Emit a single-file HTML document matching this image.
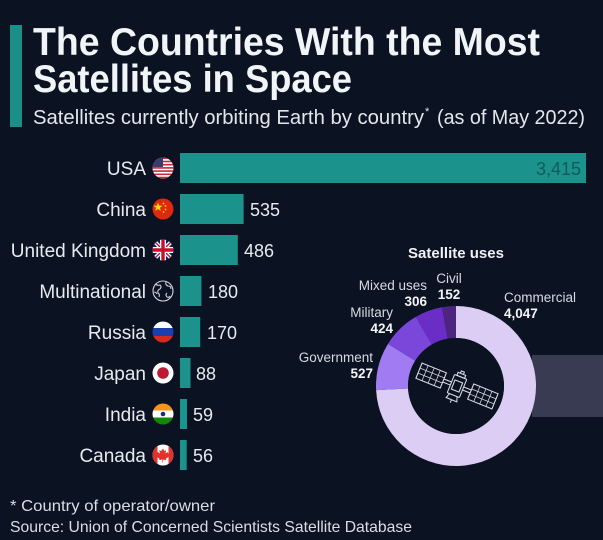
<!DOCTYPE html>
<html><head><meta charset="utf-8"><style>
html,body{margin:0;padding:0;background:#0b1322;}
svg{display:block;}
text{font-family:"Liberation Sans",Arial,sans-serif;}
</style></head><body>
<svg width="603" height="540" viewBox="0 0 603 540" xmlns="http://www.w3.org/2000/svg">
<defs>
<clipPath id="c1"><circle cx="163" cy="168" r="10.5"/></clipPath>
<clipPath id="c2"><circle cx="163" cy="209" r="10.5"/></clipPath>
<clipPath id="c3"><circle cx="163" cy="250" r="10.5"/></clipPath>
<clipPath id="c5"><circle cx="163" cy="332" r="10.5"/></clipPath>
<clipPath id="c7"><circle cx="163" cy="414" r="10.5"/></clipPath>
<clipPath id="c8"><circle cx="163" cy="455" r="10.5"/></clipPath>
</defs>
<rect width="603" height="540" fill="#0b1322"/>

<!-- header -->
<rect x="10" y="25" width="12" height="102" fill="#1a8f88"/>
<text x="33" y="55" font-size="39" font-weight="bold" fill="#f1f5f8" textLength="507" lengthAdjust="spacingAndGlyphs">The Countries With the Most</text>
<text x="33" y="92" font-size="39" font-weight="bold" fill="#f1f5f8" textLength="319" lengthAdjust="spacingAndGlyphs">Satellites in Space</text>
<text x="33" y="124" font-size="20" fill="#e2e7ec" textLength="391" lengthAdjust="spacingAndGlyphs">Satellites currently orbiting Earth by country</text>
<text x="425" y="115" font-size="11" fill="#e2e7ec">*</text>
<text x="437" y="124" font-size="20" fill="#e2e7ec" textLength="148" lengthAdjust="spacingAndGlyphs">(as of May 2022)</text>

<!-- country labels -->
<g font-size="19" fill="#e6ebef" text-anchor="end">
<text x="146" y="175">USA</text>
<text x="146" y="216">China</text>
<text x="146" y="257">United Kingdom</text>
<text x="146" y="298">Multinational</text>
<text x="146" y="339">Russia</text>
<text x="146" y="380">Japan</text>
<text x="146" y="421">India</text>
<text x="146" y="462">Canada</text>
</g>

<!-- bars -->
<g fill="#1c928d">
<rect x="180" y="153" width="406" height="30"/>
<rect x="180" y="194" width="63.6" height="30"/>
<rect x="180" y="235" width="57.8" height="30"/>
<rect x="180" y="276" width="21.4" height="30"/>
<rect x="180" y="317" width="20.2" height="30"/>
<rect x="180" y="358" width="10.5" height="30"/>
<rect x="180" y="399" width="7" height="30"/>
<rect x="180" y="440" width="6.7" height="30"/>
</g>
<text x="581" y="175" font-size="18" fill="#0f5c5a" text-anchor="end">3,415</text>
<g font-size="18" fill="#e6ebef">
<text x="250" y="216">535</text>
<text x="244" y="257">486</text>
<text x="208" y="298">180</text>
<text x="207" y="339">170</text>
<text x="196" y="380">88</text>
<text x="193" y="421">59</text>
<text x="193" y="462">56</text>
</g>

<!-- flags -->
<g clip-path="url(#c1)">
<rect x="150" y="155" width="26" height="26" fill="#fff"/>
<g fill="#c8283a">
<rect x="150" y="157.5" width="26" height="1.6"/>
<rect x="150" y="160.7" width="26" height="1.6"/>
<rect x="150" y="163.9" width="26" height="1.6"/>
<rect x="150" y="167.1" width="26" height="1.6"/>
<rect x="150" y="170.3" width="26" height="1.6"/>
<rect x="150" y="173.5" width="26" height="1.6"/>
<rect x="150" y="176.7" width="26" height="1.6"/>
</g>
<rect x="150" y="155" width="13" height="12" fill="#3c3b6e"/>
</g>
<circle cx="163" cy="209" r="10.5" fill="#de2910"/>
<polygon points="158,202.5 159.2,205.6 162.5,205.7 159.9,207.7 160.8,210.9 158,209 155.2,210.9 156.1,207.7 153.5,205.7 156.8,205.6" fill="#ffde00"/>
<circle cx="163.5" cy="203.5" r="0.9" fill="#ffde00"/>
<circle cx="165.5" cy="206" r="0.9" fill="#ffde00"/>
<circle cx="165.5" cy="209.5" r="0.9" fill="#ffde00"/>
<circle cx="163.5" cy="212" r="0.9" fill="#ffde00"/>
<g clip-path="url(#c3)">
<rect x="150" y="237" width="26" height="26" fill="#012169"/>
<path d="M150,237 L176,263 M176,237 L150,263" stroke="#fff" stroke-width="4"/>
<path d="M150,237 L176,263 M176,237 L150,263" stroke="#c8102e" stroke-width="1.4"/>
<path d="M163,237 V263 M150,250 H176" stroke="#fff" stroke-width="6"/>
<path d="M163,237 V263 M150,250 H176" stroke="#c8102e" stroke-width="3.4"/>
</g>
<g fill="none" stroke="#cfd4db" stroke-width="1.1">
<circle cx="163" cy="291" r="10"/>
<path d="M155,284 q3,2 5,1 q2,2 0,4 q-3,1 -2,4 q2,1 1,4 M166,282 q-1,3 2,4 q3,0 3,3 M167,293 q-2,2 0,4 q2,1 3,-1 M154,292 q2,0 3,2"/>
</g>
<g clip-path="url(#c5)">
<rect x="150" y="319" width="26" height="9" fill="#fff"/>
<rect x="150" y="328" width="26" height="8" fill="#1c3fb0"/>
<rect x="150" y="336" width="26" height="10" fill="#d52b1e"/>
</g>
<circle cx="163" cy="373" r="10.5" fill="#fff"/>
<circle cx="163" cy="373" r="5.8" fill="#bc1a33"/>
<g clip-path="url(#c7)">
<rect x="150" y="401" width="26" height="9.5" fill="#f7931e"/>
<rect x="150" y="410.5" width="26" height="7" fill="#fff"/>
<rect x="150" y="417.5" width="26" height="10" fill="#138808"/>
<circle cx="163" cy="414" r="2.3" fill="#1b2a80"/>
</g>
<g clip-path="url(#c8)">
<rect x="150" y="442" width="26" height="26" fill="#fff"/>
<rect x="150" y="442" width="7.5" height="26" fill="#e3312b"/>
<rect x="168.5" y="442" width="7.5" height="26" fill="#e3312b"/>
<path d="M163,448.5 l1.3,2.5 l1.8,-0.8 l-0.6,3.4 l2,-1.6 l0.6,1.4 l1.6,-0.3 l-1,2.6 l0.8,0.5 l-3.6,2.6 l0.3,1.2 l-3.2,-0.4 l0,3 h-0.6 l0,-3 l-3.2,0.4 l0.3,-1.2 l-3.6,-2.6 l0.8,-0.5 l-1,-2.6 l1.6,0.3 l0.6,-1.4 l2,1.6 l-0.6,-3.4 l1.8,0.8 z" fill="#e3312b"/>
</g>

<!-- donut section -->
<rect x="532" y="355" width="71" height="62" fill="#393b52"/>
<text x="456" y="258" font-size="15" font-weight="bold" fill="#eef1f5" text-anchor="middle">Satellite uses</text>

<path d="M456,306 A80,80 0 1 1 376.11,390.14 L408.06,388.49 A48,48 0 1 0 456,338 Z" fill="#dccdf5"/>
<path d="M376.11,390.14 A80,80 0 0 1 388.01,343.84 L415.20,360.70 A48,48 0 0 0 408.06,388.49 Z" fill="#a07bf2"/>
<path d="M388.01,343.84 A80,80 0 0 1 415.74,316.87 L431.84,344.52 A48,48 0 0 0 415.20,360.70 Z" fill="#7b47da"/>
<path d="M415.74,316.87 A80,80 0 0 1 442.06,307.22 L447.64,338.73 A48,48 0 0 0 431.84,344.52 Z" fill="#6a2ec6"/>
<path d="M442.06,307.22 A80,80 0 0 1 456,306 L456,338 A48,48 0 0 0 447.64,338.73 Z" fill="#4b2580"/>
<circle cx="456" cy="386" r="48" fill="#0b1322"/>

<!-- satellite icon -->
<g transform="translate(457,386) rotate(22) scale(0.82)" fill="none" stroke="#d9dde6" stroke-width="1.3">
<rect x="-50" y="-10" width="32" height="20"/>
<path d="M-42,-10 V10 M-34,-10 V10 M-26,-10 V10 M-50,-3.3 H-18 M-50,3.3 H-18" stroke-width="0.9"/>
<rect x="18" y="-10" width="32" height="20"/>
<path d="M26,-10 V10 M34,-10 V10 M42,-10 V10 M18,-3.3 H50 M18,3.3 H50" stroke-width="0.9"/>
<path d="M-18,-2 H-8 M-18,2 H-8 M8,-2 H18 M8,2 H18"/>
<rect x="-8" y="-12" width="16" height="24" rx="1"/>
<rect x="-5" y="-6" width="10" height="12"/>
<rect x="-5" y="-16" width="10" height="4"/>
<path d="M-2,-16 V-19 H2 V-16"/>
<path d="M-5,12 L-7,18 H7 L5,12 M0,18 V22"/>
</g>

<!-- donut labels -->
<g font-size="13.5" fill="#d6dae2">
<text x="504" y="302" textLength="72" lengthAdjust="spacingAndGlyphs">Commercial</text>
<text x="449" y="283" text-anchor="middle">Civil</text>
<text x="427" y="290" text-anchor="end">Mixed uses</text>
<text x="393" y="317" text-anchor="end">Military</text>
<text x="373" y="362" text-anchor="end">Government</text>
</g>
<g font-size="13.5" font-weight="bold" fill="#f2f4f7">
<text x="504" y="318">4,047</text>
<text x="449" y="299" text-anchor="middle">152</text>
<text x="427" y="306" text-anchor="end">306</text>
<text x="393" y="333" text-anchor="end">424</text>
<text x="373" y="378" text-anchor="end">527</text>
</g>

<!-- footer -->
<text x="10" y="511" font-size="16" fill="#d9dee4" textLength="205" lengthAdjust="spacingAndGlyphs">* Country of operator/owner</text>
<text x="10" y="532" font-size="16" fill="#d9dee4" textLength="402" lengthAdjust="spacingAndGlyphs">Source: Union of Concerned Scientists Satellite Database</text>
</svg>
</body></html>
